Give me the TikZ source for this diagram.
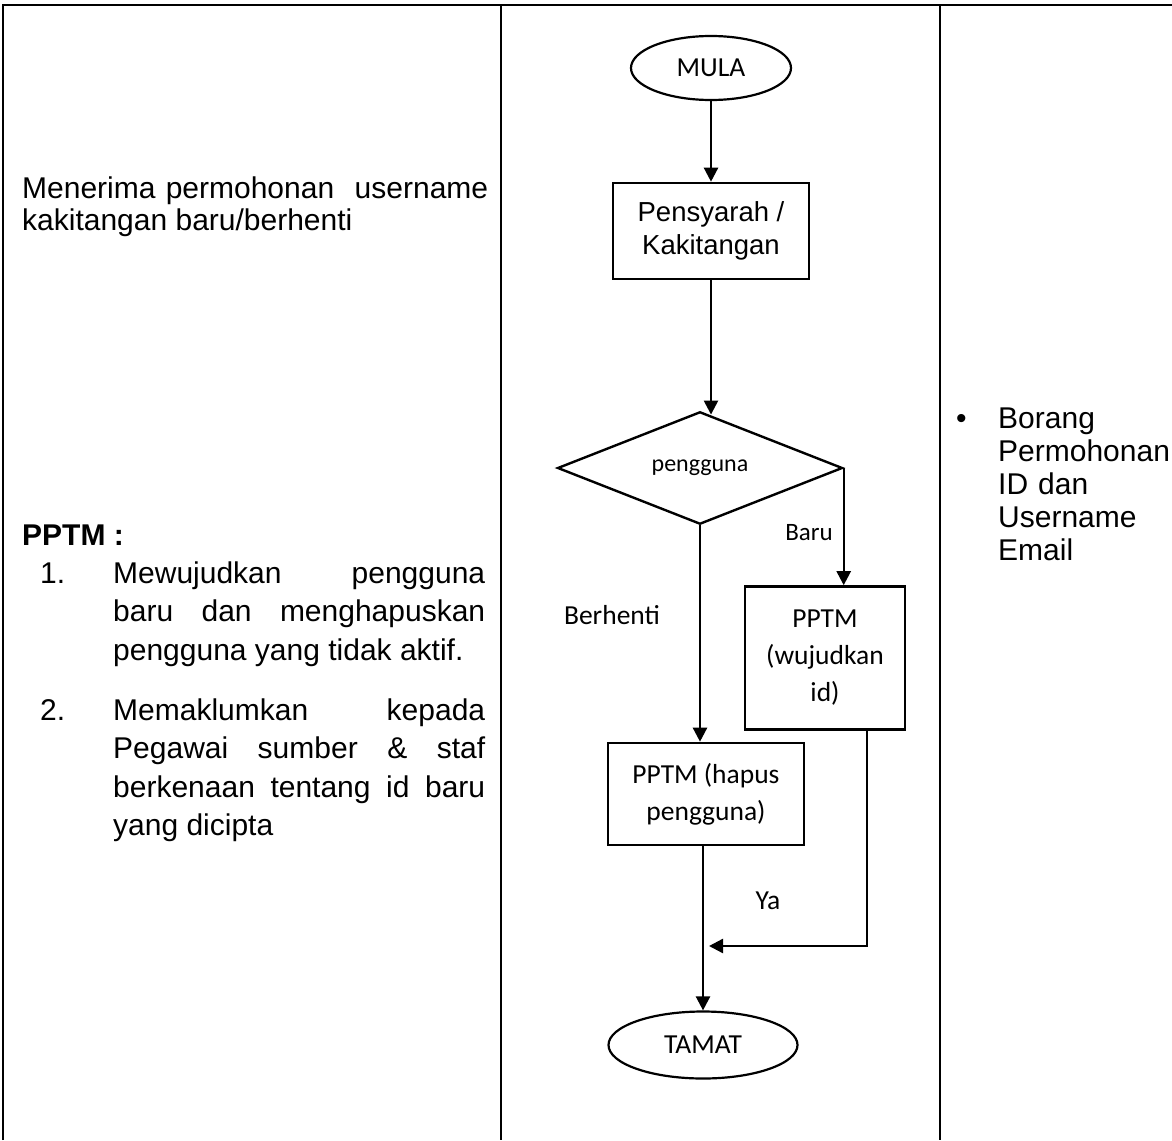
\documentclass[tikz,border=0pt]{standalone}
\usepackage{fontspec}
\setmainfont{Liberation Sans}
\newfontfamily\calibri{Carlito}
\usetikzlibrary{arrows.meta,shapes.geometric}
\tolerance=10000 \hbadness=10000 \hyphenpenalty=10000

\begin{document}
\begin{tikzpicture}[x=1pt, y=-1pt,
  tline/.style ={line width=1.4pt},
  term/.style  ={draw, ellipse, line width=2.2pt, inner sep=0pt,
                 font=\calibri\fontsize{27.5}{33}\selectfont},
  stepbox/.style={draw, line width=2.6pt, inner sep=0pt, align=center},
  flow/.style  ={-{Triangle[length=14pt,width=14pt]}, line width=2.4pt},
  cal/.style   ={font=\calibri\fontsize{27.5}{37}\selectfont},
  arial/.style ={font=\fontsize{27.5}{33}\selectfont},
  body/.style  ={inner sep=0pt, font=\fontsize{30}{38.5}\selectfont},
]
\useasboundingbox (0,0) rectangle (1172,1140);

% ============================ table rules ===================================
\draw[tline] (3,1140) -- (3,5) -- (1172,5);
\draw[tline] (501,5) -- (501,1140);
\draw[tline] (940,5) -- (940,1140);

% ============================ left column: activity ========================
\node[body, font=\fontsize{30}{32}\selectfont, text width=466pt, align=justify,
      anchor=base west] (intro) at (22,198)
  {Menerima permohonan\ \ username\linebreak kakitangan baru/berhenti};

\node[body, font=\bfseries\fontsize{30}{36}\selectfont, anchor=base west]
  (pptm) at (22,545) {PPTM :};

\node[body, anchor=base west] (n1) at (40,583) {1.};
\node[body, text width=372pt, align=justify, anchor=base west] (item1) at (113,583)
  {Mewujudkan pengguna\linebreak baru dan menghapuskan\linebreak
   pengguna yang tidak aktif.};

\node[body, anchor=base west] (n2) at (40,720) {2.};
\node[body, text width=372pt, align=justify, anchor=base west] (item2) at (113,720)
  {Memaklumkan kepada\linebreak Pegawai sumber \& staf\linebreak
   berkenaan tentang id baru\linebreak yang dicipta};

% ============================ middle column: flow ===========================
\node[term, minimum width=160pt, minimum height=64pt] (mula) at (711,68) {MULA};
\node[stepbox, arial, minimum width=196pt, minimum height=96pt] (pens) at (711,231)
  {Pensyarah /\\Kakitangan};
\node[draw, diamond, line width=2.4pt, inner sep=0pt, minimum width=285pt,
      minimum height=110pt, font=\calibri\fontsize{24}{28}\selectfont]
  (dia) at (700,468) {pengguna};
\node[stepbox, cal, minimum width=160pt, minimum height=143pt] (wuj) at (825,658)
  {PPTM\\(wujudkan\\id)};
\node[stepbox, cal, minimum width=196pt, minimum height=102pt] (hap) at (706,794)
  {PPTM (hapus\\pengguna)};
\node[term, minimum width=189pt, minimum height=67pt] (tamat) at (703,1045) {TAMAT};

\node[font=\calibri\fontsize{25}{30}\selectfont] (baru) at (809,533) {Baru};
\node[cal] (berhenti) at (612,615) {Berhenti};
\node[cal] (ya) at (768,901) {Ya};

\draw[flow] (mula) -- (pens);
\draw[flow, shorten >=-4pt] (pens.south) -- (pens.south |- dia.north);
\draw[flow] (dia.east) -- (dia.east |- wuj.north);
\draw[flow] (dia.south) -- (dia.south |- hap.north);
\draw[flow] (tamat.north |- hap.south) -- (tamat.north);

% the new-id branch comes back into the main line above TAMAT
\coordinate (ret)  at (867,946);
\coordinate (join) at (709,946);
\draw[flow] (wuj.south -| ret) -- (ret) -- (join);

% ============================ right column: forms ===========================
\node[body, anchor=base west] (dot) at (956,428) {•};
\node[body, font=\fontsize{30}{33}\selectfont, text width=172pt, align=left,
      anchor=base west] (forms) at (998,428)
  {Borang\\Permohonan\\ID dan\\Username\\Email};

\end{tikzpicture}
\end{document}
